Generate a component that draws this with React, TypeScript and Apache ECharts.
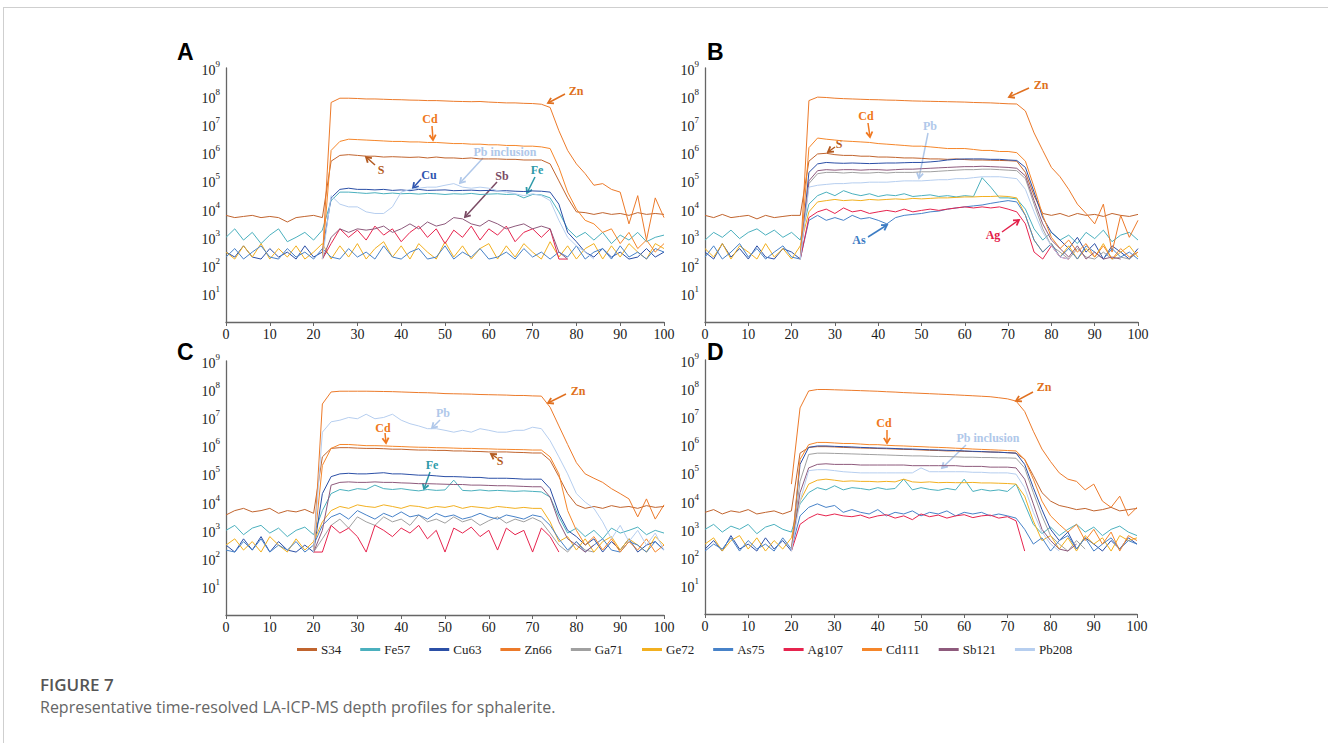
import React, { useEffect, useRef } from "react";
import * as echarts from "echarts";

const N = null;

// time axis (s)
const times = [0,2,4,6,8,10,12,14,16,18,20,22,24,26,28,30,32,34,36,38,40,42,44,46,48,50,52,54,56,58,60,62,64,66,68,70,72,74,76,78,80,82,84,86,88,90,92,94,96,98,100];

const seriesNames = ["S34","Fe57","Cu63","Zn66","Ga71","Ge72","As75","Ag107","Cd111","Sb121","Pb208"];
const seriesColors = ["#C0642E","#4BB0BE","#2B4FA6","#EC7A2A","#A0A0A0","#F2B020","#4782C8","#E6244E","#F5862A","#8E5A7C","#B6CEEF"];

const yTicks = [1,10,100,1e3,1e4,1e5,1e6,1e7,1e8,1e9];
const xTicks = [0,10,20,30,40,50,60,70,80,90,100];

// ---------- Panel A ----------
const aS34 = [6e3,5e3,5.5e3,6e3,5e3,5.5e3,5e3,3.5e3,5e3,5.5e3,6e3,5e3,
 5e5,8e5,8.5e5,8e5,7.5e5,7.5e5,7e5,7.2e5,7e5,6.8e5,7e5,6.5e5,7e5,6.5e5,6.5e5,6.2e5,6.5e5,6e5,6e5,6e5,5.8e5,5.8e5,5.5e5,5.5e5,5.5e5,
 4e5,1e5,2.5e4,8e3,7.5e3,6.5e3,7.5e3,6.5e3,7e3,6e3,7.5e3,6.5e3,7e3,6.5e3];
const aFe57 = [1e3,2e3,8e2,1.5e3,6e2,1.2e3,2e3,7e2,1e3,1.5e3,8e2,1.8e3,
 2e4,4e4,4e4,3.8e4,3.6e4,3.8e4,3.5e4,3.7e4,3.5e4,3.6e4,3.4e4,3.6e4,3.5e4,3.3e4,3.5e4,3.4e4,3.6e4,3.3e4,3.4e4,3.5e4,3.3e4,3.4e4,2.5e4,3.3e4,3.2e4,
 2.5e4,8e3,2e3,1e3,1.5e3,8e2,1.5e3,6e2,1.2e3,8e2,1.5e3,7e2,1e3,1.2e3];
const aCu63 = [3e2,2e2,5e2,2e2,1.7e2,4e2,2e2,3e2,1.7e2,5e2,2e2,3e2,
 2.5e4,5e4,5.5e4,5e4,5e4,4.8e4,5e4,4.6e4,4.8e4,4.5e4,5e4,4.6e4,4.7e4,4.8e4,4.5e4,4.6e4,4.7e4,4.5e4,4.6e4,4.4e4,4.5e4,4.3e4,4.2e4,4.4e4,4.3e4,
 4e4,1.5e4,1.5e3,7e2,3e2,2e2,4e2,2e2,3e2,1.7e2,2e2,4e2,2e2,3e2];
const aZn66 = [N,N,N,N,N,N,N,N,N,N,N,1.7e2,
 6e7,8.5e7,8.5e7,8.3e7,8e7,8e7,7.8e7,7.6e7,7.5e7,7.3e7,7.2e7,7e7,7e7,6.8e7,6.6e7,6.5e7,6.4e7,6.5e7,6.2e7,6e7,5.8e7,5.8e7,5.6e7,5.5e7,5.2e7,
 4e7,6e6,1.2e6,4e5,1.8e5,7e4,8e4,5e4,4e4,3e3,3e4,8e2,2.5e4,5e3];
const aGa71: (number | null)[] = []; // not visible in this spot
const aGe72 = [3e2,1.7e2,5e2,2e2,6e2,1.7e2,4e2,2e2,5e2,1.7e2,3e2,6e2,
 1.7e2,5e2,2e2,6e2,1.7e2,4e2,7e2,2e2,5e2,1.7e2,6e2,3e2,1.7e2,7e2,2e2,5e2,1.7e2,4e2,6e2,1.7e2,5e2,2e2,6e2,3e2,1.7e2,
 7e2,2e2,5e2,1.7e2,4e2,6e2,1.7e2,5e2,2e2,6e2,3e2,1.7e2,6e2,4e2];
const aAs75 = [2e2,4e2,1.7e2,3e2,5e2,2e2,1.7e2,4e2,2e2,3e2,1.7e2,4e2,
 2e2,1.7e2,4e2,2e2,3e2,1.7e2,5e2,2e2,1.7e2,3e2,4e2,1.7e2,2e2,5e2,1.7e2,3e2,2e2,4e2,1.7e2,2e2,3e2,1.7e2,4e2,2e2,3e2,
 1.7e2,3e2,2e2,5e2,1.7e2,3e2,4e2,1.7e2,5e2,2e2,3e2,1.7e2,4e2,3e2];
const aAg107 = [N,N,N,N,N,N,N,N,N,N,N,1.7e2,
 6e2,2e3,1e3,1.8e3,8e2,2.5e3,1.2e3,2e3,7e2,1.5e3,2.5e3,1e3,2e3,6e2,1.8e3,1e3,2.5e3,8e2,2e3,1.2e3,2.5e3,7e2,1.5e3,2e3,1e3,
 2e3,1.7e2,1.7e2];
const aCd111 = [N,N,N,N,N,N,N,N,N,N,N,1.7e2,
 1.2e6,2.5e6,3e6,2.9e6,2.8e6,2.7e6,2.6e6,2.5e6,2.5e6,2.4e6,2.4e6,2.3e6,2.3e6,2.2e6,2.1e6,2.1e6,2e6,2e6,1.9e6,1.9e6,1.8e6,1.8e6,1.7e6,1.7e6,1.6e6,
 1.4e6,3e5,4e4,1e4,4e3,3e3,1.5e3,2e3,6e2,1.5e3,4e2,8e2,3e2,6e2];
const aSb121 = [N,N,N,N,N,N,N,N,N,N,N,1.7e2,
 1e3,2e3,1.5e3,2e3,1.8e3,2e3,2.5e3,1.5e3,2e3,3e3,2e3,3.5e3,2.5e3,3e3,5e3,4.5e3,3e3,2.5e3,4e3,3e3,2e3,2.5e3,3e3,2e3,2.5e3,
 2e3,3e2,1.7e2];
const aPb208 = [N,N,N,N,N,N,N,N,N,N,N,1.7e2,
 3e4,1.5e4,1.2e4,1.2e4,8e3,7e3,7e3,1.2e4,4e4,5e4,5.5e4,6e4,6e4,7e4,8e4,6e4,5.5e4,6e4,5.5e4,4.5e4,4e4,3.5e4,3e4,3.5e4,3e4,
 2e4,4e3,1e3,5e2,3e2,1.7e2];

// ---------- Panel B ----------
const bS34 = [6e3,5e3,6.5e3,5e3,5.5e3,6e3,4.5e3,6e3,5e3,5.5e3,6e3,6e3,
 5e5,9e5,9.5e5,8.5e5,8e5,8e5,7.5e5,7.5e5,7e5,7e5,6.8e5,6.5e5,6.5e5,6.3e5,6e5,6e5,5.8e5,6e5,5.7e5,5.5e5,5.5e5,5.4e5,5.3e5,5.2e5,5e5,
 2e5,3e4,7e3,6e3,7e3,5.5e3,7e3,6e3,6.5e3,5.5e3,7e3,6e3,5.5e3,6.5e3];
const bFe57 = [8e2,1.5e3,1e3,1.8e3,9e2,1.5e3,2e3,1.2e3,1.8e3,1e3,1.5e3,8e2,
 1.5e4,3e4,4e4,3e4,4.5e4,3.5e4,3e4,3.5e4,2.8e4,3.2e4,3e4,3.5e4,2.8e4,3e4,3.2e4,2.8e4,3e4,2.7e4,3e4,2.8e4,1.3e5,6e4,2.5e4,2.5e4,2.3e4,
 1e4,2e3,8e2,1.5e3,8e2,1.2e3,6e2,1.5e3,9e2,1.8e3,7e2,1.2e3,1.5e3,8e2];
const bCu63 = [3e2,1.7e2,6e2,2e2,4e2,1.7e2,5e2,2e2,1.7e2,4e2,3e2,1.7e2,
 2e5,4e5,4.5e5,4.3e5,4.2e5,4.3e5,4.2e5,4.1e5,4.2e5,4.3e5,4.3e5,4.4e5,4.5e5,4.5e5,4.7e5,5e5,5.5e5,5.8e5,6e5,6e5,6e5,5.8e5,5.8e5,5.5e5,5.3e5,
 3e5,4e4,5e3,1.5e3,8e2,4e2,1e3,3e2,6e2,1.7e2,5e2,3e2,1.7e2,4e2];
const bZn66 = [N,N,N,N,N,N,N,N,N,N,N,1.7e2,
 7e7,9.3e7,9e7,8.5e7,8.2e7,8e7,7.8e7,7.6e7,7.5e7,7.3e7,7.2e7,7e7,6.8e7,6.7e7,6.6e7,6.5e7,6.4e7,6.3e7,6.2e7,6e7,5.9e7,5.8e7,5.6e7,5.4e7,5.3e7,
 3e7,5e6,1.2e6,3e5,1.4e5,5e4,1.5e4,7e3,3e3,1.5e4,3e2,6e3,1e3,4e3];
const bGa71 = [N,N,N,N,N,N,N,N,N,N,N,1.7e2,
 8e4,1.8e5,2e5,2e5,1.9e5,2e5,1.9e5,1.9e5,2e5,1.9e5,2e5,2e5,2e5,2.1e5,2.1e5,2.2e5,2.3e5,2.4e5,2.5e5,2.5e5,2.6e5,2.6e5,2.5e5,2.4e5,2.3e5,
 1.2e5,1.5e4,2e3,5e2,3e2,1.7e2,4e2,2e2,1.7e2,3e2,1.7e2,2e2,1.7e2,3e2];
const bGe72 = [4e2,2e2,6e2,1.7e2,5e2,3e2,1.7e2,6e2,2e2,4e2,1.7e2,5e2,
 8e3,1.8e4,2e4,2.2e4,2e4,2.1e4,2e4,2.2e4,2.1e4,2.2e4,2.3e4,2.2e4,2.4e4,2.3e4,2.4e4,2.5e4,2.5e4,2.6e4,2.7e4,2.7e4,2.8e4,2.8e4,2.9e4,2.8e4,2.5e4,
 6e3,8e2,3e2,6e2,2e2,5e2,1.7e2,4e2,2e2,6e2,1.7e2,3e2,5e2,2e2];
const bAs75 = [2e2,5e2,1.7e2,3e2,6e2,2e2,4e2,1.7e2,3e2,5e2,2e2,1.7e2,
 4e3,6e3,4e3,5e3,4e3,6e3,4.5e3,5e3,4e3,3e3,5e3,6e3,6.5e3,7e3,8e3,8.5e3,1e4,1.1e4,1.2e4,1.3e4,1.4e4,1.6e4,1.8e4,2e4,1.8e4,
 6e3,8e2,3e2,6e2,2e2,4e2,1.7e2,5e2,3e2,1.7e2,4e2,2e2,3e2,1.7e2];
const bAg107 = [N,N,N,N,N,N,N,N,N,N,N,1.7e2,
 5e3,8e3,1e4,7e3,1.1e4,8e3,9e3,7e3,8e3,9e3,8e3,1e4,8e3,9e3,1e4,9e3,1e4,1.1e4,1.2e4,1.1e4,1.2e4,1.1e4,1.2e4,1e4,8e3,
 3e3,3e2,1.7e2,5e2,2e2,1.7e2];
const bCd111 = [N,N,N,N,N,N,N,N,N,N,N,1.7e2,
 1.5e6,3.3e6,3e6,2.8e6,2.6e6,2.5e6,2.4e6,2.3e6,2.1e6,2e6,1.9e6,1.8e6,1.7e6,1.7e6,1.6e6,1.5e6,1.4e6,1.4e6,1.4e6,1.3e6,1.2e6,1.2e6,1.1e6,1.1e6,1e6,
 5e5,6e4,6e3,1e3,4e2,8e2,3e2,6e2,2e2,5e2,1.7e2,4e2,2e2,3e2];
const bSb121 = [N,N,N,N,N,N,N,N,N,N,N,1.7e2,
 1e5,2.3e5,2.5e5,2.4e5,2.5e5,2.5e5,2.4e5,2.5e5,2.5e5,2.4e5,2.5e5,2.6e5,2.6e5,2.7e5,2.8e5,2.9e5,3e5,3.1e5,3.2e5,3.2e5,3.3e5,3.2e5,3.1e5,3e5,2.8e5,
 1.5e5,2e4,3e3,8e2,4e2,2e2,5e2,1.7e2,3e2,1.7e2,2e2,1.7e2];
const bPb208 = [N,N,N,N,N,N,N,N,N,N,N,1.7e2,
 6e4,7e4,7.5e4,8e4,8e4,8.5e4,8.5e4,9e4,9e4,9e4,9.5e4,1e5,1e5,1e5,1.05e5,1.1e5,1.1e5,1.2e5,1.2e5,1.3e5,1.4e5,1.4e5,1.4e5,1.3e5,1.2e5,
 5e4,8e3,1.5e3,5e2,2e2,1.7e2];

// ---------- Panel C ----------
const cS34 = [3.5e3,5e3,6e3,4.5e3,5e3,6e3,4e3,5e3,4.5e3,5.5e3,4e3,4e5,
 8e5,8.5e5,8.5e5,8.2e5,8e5,8e5,7.8e5,7.5e5,7.5e5,7.2e5,7e5,7e5,6.8e5,6.8e5,6.5e5,6.5e5,6.3e5,6.2e5,6e5,6e5,6e5,5.8e5,5.7e5,5.5e5,5.5e5,
 3e5,8e4,2e4,8e3,6e3,7e3,6e3,7.5e3,6.5e3,7e3,6e3,7.5e3,6.5e3,7e3];
const cFe57 = [1e3,1.5e3,7e2,1.2e3,1.5e3,8e2,1.2e3,6e2,1e3,1.3e3,7e2,5e3,
 2e4,2.8e4,2.5e4,3e4,2.8e4,4e4,3e4,2.8e4,3e4,2.7e4,2.5e4,2.8e4,2.6e4,2.7e4,6e4,2.6e4,2.5e4,2.7e4,2.5e4,2.6e4,2.5e4,2.4e4,2.5e4,2.4e4,2.3e4,
 1.5e4,3e3,8e2,1.2e3,6e2,1e3,5e2,1.2e3,8e2,1e3,1.3e3,7e2,1e3,8e2];
const cCu63 = [3e2,1.7e2,5e2,2e2,6e2,1.7e2,4e2,2e2,1.7e2,3e2,1.7e2,2e4,
 8e4,1e5,1.05e5,1e5,1e5,1.05e5,1.1e5,1e5,1e5,9.5e4,9e4,9e4,8.5e4,8e4,8e4,7.8e4,7.5e4,7.5e4,7e4,7e4,7e4,6.8e4,6.5e4,6.5e4,6.5e4,
 3e4,4e3,1e3,6e2,3e2,5e2,1.7e2,4e2,2e2,5e2,1.7e2,3e2,4e2,2e2];
const cZn66 = [N,N,N,N,N,N,N,N,N,N,1.7e2,3e7,
 8e7,8.5e7,8.5e7,8.5e7,8.5e7,8.4e7,8.3e7,8.2e7,8e7,7.8e7,7.6e7,7.5e7,7.3e7,7e7,6.9e7,6.8e7,6.7e7,6.5e7,6.4e7,6.3e7,6.2e7,6e7,6e7,5.8e7,5.7e7,
 2.3e7,5e6,1.1e6,2.5e5,1e5,7e4,5e4,3e4,2e4,1.3e4,3e3,1.3e4,2.5e3,8e3];
const cGa71 = [N,N,N,N,N,N,N,N,N,N,1.7e2,5e2,
 1.5e3,2.5e3,1.2e3,3e3,2e3,1.5e3,3e3,2e3,2.5e3,1.5e3,3.5e3,2e3,2.5e3,1.8e3,3e3,2e3,2.5e3,1.5e3,2.2e3,3e3,1.8e3,2.5e3,2e3,2.8e3,2e3,
 8e2,3e2,1.7e2,4e2,2e2,1.7e2];
const cGe72 = [3e2,5e2,2e2,4e2,1.7e2,6e2,3e2,1.7e2,5e2,2e2,4e2,2e3,
 5e3,7e3,6e3,8e3,7e3,6.5e3,8e3,7e3,6e3,7.5e3,7e3,6e3,7e3,6.5e3,7.5e3,6e3,7e3,6.5e3,6e3,7e3,6.5e3,6e3,6.5e3,6e3,6e3,
 2e3,4e2,6e2,2e2,5e2,1.7e2,4e2,6e2,2e2,5e2,3e2,1.7e2,6e2,3e2];
const cAs75 = [2e2,1.7e2,4e2,2e2,5e2,1.7e2,3e2,2e2,4e2,1.7e2,3e2,1.5e3,
 3e3,4e3,2.5e3,5e3,3.5e3,2.5e3,4e3,3e3,4.5e3,3e3,3.5e3,2.5e3,4e3,3e3,3.5e3,2.5e3,3e3,4e3,3e3,2.5e3,3.5e3,3e3,2.5e3,3.5e3,3e3,
 1.5e3,5e2,2e2,4e2,1.7e2,3e2,5e2,2e2,1.7e2,4e2,3e2,1.7e2,4e2,2e2];
const cAg107 = [N,N,N,N,N,N,N,N,N,N,1.7e2,1.7e2,
 1.5e3,8e2,1.2e3,6e2,1.7e2,1.5e3,1e3,6e2,1.2e3,8e2,1.5e3,5e2,1e3,1.7e2,1.2e3,8e2,1.3e3,6e2,1e3,2e2,1.2e3,7e2,1e3,1.7e2,1.2e3,
 6e2,1.7e2];
const cCd111 = [N,N,N,N,N,N,N,N,N,N,1.7e2,2e5,
 8e5,1.1e6,1.1e6,1.05e6,1e6,1e6,9.8e5,9.5e5,9.3e5,9e5,8.8e5,8.7e5,8.5e5,8.4e5,8.2e5,8e5,8e5,7.8e5,7.7e5,7.5e5,7.4e5,7.3e5,7.2e5,7e5,7e5,
 4e5,1e5,5e3,1e3,3e2,6e2,2e2,5e2,1.7e2,4e2,2e2,5e2,1.7e2,3e2];
const cSb121 = [N,N,N,N,N,N,N,N,N,N,1.7e2,1e3,
 4e4,5e4,5.2e4,5e4,5e4,5.2e4,5e4,5e4,4.8e4,4.7e4,4.5e4,4.5e4,4.4e4,4.3e4,4.2e4,4.2e4,4e4,4e4,3.9e4,3.8e4,3.8e4,3.7e4,3.6e4,3.5e4,3.5e4,
 1.5e4,2e3,5e2,3e2,1.7e2,3e2];
const cPb208 = [N,N,N,N,N,N,N,N,N,N,1.7e2,3e6,
 7e6,8e6,1e7,9e6,1.3e7,9e6,1e7,1.3e7,8e6,6e6,5e6,4e6,4e6,3.5e6,3e6,3.5e6,3e6,4e6,3.5e6,3e6,3e6,3.5e6,3.5e6,4.5e6,4e6,
 1.5e6,4e5,1e5,2e4,1e4,6e3,2e3,5e2,1.5e3,4e2,1e3,3e2,8e2,2e2];

// ---------- Panel D ----------
const dS34 = [4e3,5e3,3.5e3,4.5e3,4e3,5e3,3.5e3,4e3,4.5e3,3.5e3,4.5e3,5e5,
 8e5,8.5e5,8.5e5,8.3e5,8e5,7.8e5,7.6e5,7.5e5,7.3e5,7.2e5,7e5,6.8e5,6.7e5,6.5e5,6.3e5,6.2e5,6e5,6e5,5.8e5,5.7e5,5.6e5,5.5e5,5.4e5,5.2e5,5e5,
 3e5,8e4,2e4,1e4,7e3,6e3,5e3,5.5e3,4.5e3,5e3,6e3,4.5e3,5e3,5.5e3];
const dFe57 = [1e3,1.5e3,8e2,1.3e3,1e3,1.5e3,7e2,1.2e3,1.5e3,1e3,8e2,8e3,
 2e4,3e4,2.5e4,3.5e4,2.5e4,3e4,2.8e4,2.5e4,3e4,2.6e4,2.8e4,6e4,2.5e4,3e4,2.6e4,2.4e4,2.8e4,2.5e4,6e4,2.2e4,2.6e4,2.3e4,2.5e4,2.2e4,4e4,
 8e3,1.5e3,7e2,1.2e3,6e2,1e3,1.5e3,8e2,1.2e3,6e2,1e3,1.3e3,8e2,6e2];
const dCu63 = [2e2,4e2,1.7e2,6e2,2e2,3e2,1.7e2,5e2,2e2,4e2,1.7e2,2e5,
 8e5,9e5,9e5,8.7e5,8.5e5,8.3e5,8e5,7.8e5,7.6e5,7.5e5,7.3e5,7.1e5,7e5,6.8e5,6.6e5,6.5e5,6.3e5,6.2e5,6e5,5.8e5,5.7e5,5.5e5,5.4e5,5.2e5,5e5,
 2e5,3e4,5e3,1e3,4e2,8e2,2e2,5e2,3e2,1.7e2,4e2,2e2,5e2,3e2];
const dZn66 = [N,N,N,N,N,N,N,N,N,N,4e4,2e7,
 8e7,9e7,9e7,8.8e7,8.6e7,8.4e7,8.2e7,8e7,7.8e7,7.5e7,7.3e7,7e7,6.8e7,6.6e7,6.4e7,6.2e7,6e7,5.8e7,5.6e7,5.4e7,5.2e7,5e7,4.6e7,4.2e7,3.5e7,
 1.5e7,3e6,7e5,2.5e5,1e5,6e4,5e4,2.5e4,4e4,1e4,6e3,1.5e4,3e3,6e3];
const dGa71 = [N,N,N,N,N,N,N,N,N,N,1.7e2,5e4,
 4.5e5,5e5,5e5,4.9e5,4.8e5,4.7e5,4.6e5,4.5e5,4.4e5,4.3e5,4.2e5,4.1e5,4e5,4e5,3.9e5,3.8e5,3.8e5,3.7e5,3.6e5,3.6e5,3.5e5,3.5e5,3.4e5,3.4e5,3.3e5,
 1.5e5,2e4,3e3,6e2,3e2,1.7e2,4e2,2e2];
const dGe72 = [3e2,5e2,1.7e2,4e2,6e2,2e2,5e2,1.7e2,4e2,2e2,5e2,1e4,
 4e4,5.5e4,6e4,5.5e4,5e4,5.2e4,5e4,5e4,4.8e4,5e4,4.8e4,6e4,4.8e4,4.6e4,4.8e4,4.5e4,4.6e4,4.5e4,4.5e4,4.6e4,4.4e4,4.4e4,4.3e4,4.2e4,4e4,
 1.5e4,2e3,4e2,6e2,2e2,5e2,1.7e2,6e2,3e2,5e2,1.7e2,6e2,4e2,5e2];
const dAs75 = [1.7e2,3e2,2e2,5e2,1.7e2,4e2,2e2,3e2,1.7e2,5e2,2e2,3e3,
 6e3,8e3,6e3,7e3,4e3,5e3,4e3,3.5e3,5e3,3e3,4e3,3.5e3,4.5e3,3e3,4e3,3.5e3,4.5e3,3e3,4e3,3.5e3,4e3,3e3,3.5e3,3e3,2.5e3,
 1e3,3e2,5e2,1.7e2,4e2,6e2,2e2,5e2,1.7e2,3e2,5e2,2e2,4e2,3e2];
const dAg107 = [N,N,N,N,N,N,N,N,N,N,1.7e2,1.5e3,
 2.5e3,3.5e3,3e3,3.5e3,3e3,2.8e3,3.2e3,2.5e3,3e3,3.3e3,2.5e3,3e3,2.2e3,3.5e3,2.8e3,3.2e3,2.5e3,3e3,3.3e3,2.6e3,3e3,3.2e3,2.5e3,2.8e3,2e3,
 1.7e2];
const dCd111 = [N,N,N,N,N,N,N,N,N,N,1.7e2,3e5,
 1e6,1.2e6,1.2e6,1.15e6,1.1e6,1.1e6,1.05e6,1e6,1e6,9.5e5,9.2e5,9e5,8.7e5,8.5e5,8.2e5,8e5,7.8e5,7.5e5,7.3e5,7e5,6.8e5,6.6e5,6.4e5,6.2e5,6e5,
 3e5,6e4,1e4,3e3,1.5e3,8e2,1.5e3,4e2,1e3,3e2,8e2,1.7e2,6e2,4e2];
const dSb121 = [N,N,N,N,N,N,N,N,N,N,1.7e2,2e4,
 1.5e5,2e5,2.1e5,2e5,2e5,2e5,1.9e5,1.9e5,1.9e5,1.9e5,1.9e5,1.9e5,1.8e5,1.8e5,1.8e5,1.8e5,1.8e5,1.8e5,1.7e5,1.7e5,1.7e5,1.6e5,1.6e5,1.6e5,1.5e5,
 6e4,8e3,1e3,4e2,2e2,1.7e2,3e2];
const dPb208 = [N,N,N,N,N,N,N,N,N,N,1.7e2,1e4,
 1.2e5,1.3e5,1.3e5,1.2e5,1.1e5,1.05e5,1e5,1e5,1e5,1e5,1e5,1e5,1e5,1.5e5,1.1e5,1.1e5,1.1e5,1.1e5,1.1e5,1.05e5,1.05e5,1e5,1e5,1e5,9e4,
 3e4,4e3,8e2,3e2,1.7e2];

const panelA = [aS34,aFe57,aCu63,aZn66,aGa71,aGe72,aAs75,aAg107,aCd111,aSb121,aPb208];
const panelB = [bS34,bFe57,bCu63,bZn66,bGa71,bGe72,bAs75,bAg107,bCd111,bSb121,bPb208];
const panelC = [cS34,cFe57,cCu63,cZn66,cGa71,cGe72,cAs75,cAg107,cCd111,cSb121,cPb208];
const panelD = [dS34,dFe57,dCu63,dZn66,dGa71,dGe72,dAs75,dAg107,dCd111,dSb121,dPb208];
const panels = [panelA, panelB, panelC, panelD];
const panelLetters = ["A","B","C","D"];

// annotation labels (text, colour, label position, arrow from -> to), in page pixels
const notes = [
  { t: "Zn", c: "#E07020", tx: 576, ty: 91, x1: 565, y1: 94, x2: 548, y2: 103 },
  { t: "Cd", c: "#F07820", tx: 430, ty: 119, x1: 432, y1: 126, x2: 433, y2: 140 },
  { t: "S", c: "#B35A20", tx: 381, ty: 170, x1: 375, y1: 165, x2: 366, y2: 157 },
  { t: "Cu", c: "#2F55B0", tx: 429, ty: 175, x1: 421, y1: 179, x2: 413, y2: 188 },
  { t: "Pb inclusion", c: "#B0C8EA", tx: 505, ty: 152, x1: 483, y1: 158, x2: 460, y2: 183 },
  { t: "Sb", c: "#7A4A64", tx: 502, ty: 176, x1: 497, y1: 182, x2: 465, y2: 217 },
  { t: "Fe", c: "#2E9AA8", tx: 537, ty: 170, x1: 535, y1: 177, x2: 527, y2: 193 },
  { t: "Zn", c: "#E07020", tx: 1041, ty: 85, x1: 1029, y1: 88, x2: 1009, y2: 97 },
  { t: "Cd", c: "#F07820", tx: 866, ty: 116, x1: 868, y1: 123, x2: 870, y2: 137 },
  { t: "S", c: "#B35A20", tx: 839, ty: 144, x1: 835, y1: 147, x2: 828, y2: 152 },
  { t: "Pb", c: "#B0C8EA", tx: 930, ty: 126, x1: 928, y1: 133, x2: 919, y2: 178 },
  { t: "As", c: "#3C7CC4", tx: 859, ty: 240, x1: 868, y1: 237, x2: 887, y2: 225 },
  { t: "Ag", c: "#E3204A", tx: 993, ty: 235, x1: 1002, y1: 232, x2: 1019, y2: 220 },
  { t: "Zn", c: "#E07020", tx: 578, ty: 391, x1: 566, y1: 394, x2: 548, y2: 403 },
  { t: "Pb", c: "#B0C8EA", tx: 443, ty: 413, x1: 440, y1: 420, x2: 432, y2: 428 },
  { t: "Cd", c: "#F07820", tx: 383, ty: 428, x1: 385, y1: 433, x2: 386, y2: 443 },
  { t: "S", c: "#B35A20", tx: 500, ty: 461, x1: 497, y1: 458, x2: 491, y2: 454 },
  { t: "Fe", c: "#2E9AA8", tx: 432, ty: 465, x1: 430, y1: 472, x2: 424, y2: 489 },
  { t: "Zn", c: "#E07020", tx: 1044, ty: 387, x1: 1033, y1: 392, x2: 1016, y2: 401 },
  { t: "Cd", c: "#F07820", tx: 884, ty: 423, x1: 887, y1: 430, x2: 887, y2: 443 },
  { t: "Pb inclusion", c: "#B0C8EA", tx: 988, ty: 438, x1: 966, y1: 445, x2: 942, y2: 468 },
];

const SERIF = '"Liberation Serif", "Times New Roman", serif';

function buildOption() {
  const grids = [
    { left: 226, top: 68, width: 438, height: 254 },
    { left: 705, top: 68, width: 433, height: 254 },
    { left: 226, top: 361, width: 438, height: 254 },
    { left: 705, top: 360, width: 432, height: 254 },
  ];
  const xAxis = grids.map((_, i) => ({
    type: "value", gridIndex: i, min: xTicks[0], max: xTicks[xTicks.length - 1], interval: 10,
    axisLine: { show: true, lineStyle: { color: "#666", width: 1.3 } },
    axisTick: { show: true, length: 4, lineStyle: { color: "#666" } },
    splitLine: { show: false },
    axisLabel: { fontFamily: SERIF, fontSize: 14, color: "#1a1a1a", margin: 5 },
  }));
  const yAxis = grids.map((_, i) => ({
    type: "log", gridIndex: i, logBase: 10, min: yTicks[0], max: yTicks[yTicks.length - 1], splitNumber: 9,
    axisLine: { show: true, lineStyle: { color: "#666", width: 1.3 } },
    axisTick: { show: false },
    splitLine: { show: false },
    axisLabel: {
      showMinLabel: false, margin: 6,
      formatter: (v: number) => `{b|10}{s|${Math.round(Math.log10(v))}}`,
      rich: {
        b: { fontFamily: SERIF, fontSize: 14, color: "#1a1a1a", lineHeight: 18, verticalAlign: "bottom" },
        s: { fontFamily: SERIF, fontSize: 9, color: "#1a1a1a", lineHeight: 10, verticalAlign: "top" },
      },
    },
  }));
  const series: any[] = [];
  panels.forEach((panel, p) => {
    panel.forEach((arr, i) => {
      series.push({
        type: "line", name: seriesNames[i], xAxisIndex: p, yAxisIndex: p,
        data: times.map((t, k) => [t, arr[k] == null ? "-" : arr[k]]),
        showSymbol: false, symbol: "none", silent: true,
        lineStyle: { width: 1, color: seriesColors[i] },
        itemStyle: { color: seriesColors[i] },
        connectNulls: false,
      });
    });
  });

  const graphic: any[] = [];
  graphic.push({ type: "line", shape: { x1: 3, y1: 7.5, x2: 1328, y2: 7.5 }, style: { stroke: "#cfcfcf", lineWidth: 1 } });
  graphic.push({ type: "line", shape: { x1: 3.5, y1: 7, x2: 3.5, y2: 743 }, style: { stroke: "#cfcfcf", lineWidth: 1 } });
  const letterPos = [[177, 40], [707, 40], [177, 340], [707, 340]];
  panelLetters.forEach((L, i) => {
    graphic.push({
      type: "text", x: letterPos[i][0], y: letterPos[i][1],
      style: { text: L, fill: "#000", font: 'bold 23px "Liberation Sans", Arial, sans-serif', textAlign: "left", textVerticalAlign: "top" },
    });
  });
  notes.forEach((n) => {
    const ang = Math.atan2(n.y2 - n.y1, n.x2 - n.x1);
    const hl = 6, ha = 0.55;
    const pA = [n.x2 - hl * Math.cos(ang - ha), n.y2 - hl * Math.sin(ang - ha)];
    const pB = [n.x2 - hl * Math.cos(ang + ha), n.y2 - hl * Math.sin(ang + ha)];
    graphic.push({ type: "line", shape: { x1: n.x1, y1: n.y1, x2: n.x2, y2: n.y2 }, style: { stroke: n.c, lineWidth: 1.5 } });
    graphic.push({ type: "polyline", shape: { points: [pA, [n.x2, n.y2], pB] }, style: { stroke: n.c, lineWidth: 1.8, fill: null } });
    graphic.push({
      type: "text", x: n.tx, y: n.ty,
      style: { text: n.t, fill: n.c, font: `bold 12px ${SERIF}`, textAlign: "center", textVerticalAlign: "middle" },
    });
  });
  graphic.push({
    type: "text", x: 40, y: 676,
    style: { text: "FIGURE 7", fill: "#555", font: '600 17px "Open Sans", sans-serif', textAlign: "left", textVerticalAlign: "top" },
  });
  graphic.push({
    type: "text", x: 40, y: 699,
    style: { text: "Representative time-resolved LA-ICP-MS depth profiles for sphalerite.", fill: "#666", font: '16px "Open Sans", sans-serif', textAlign: "left", textVerticalAlign: "top" },
  });

  return {
    animation: false,
    backgroundColor: "#fff",
    grid: grids,
    xAxis, yAxis, series, graphic,
    legend: {
      data: seriesNames, left: 292, top: 638, icon: "rect", itemWidth: 20, itemHeight: 3, itemGap: 19,
      textStyle: { fontFamily: SERIF, fontSize: 13, color: "#222", padding: [0, 0, 0, -1] },
      selectedMode: false,
    },
  };
}

export default function App() {
  const ref = useRef<HTMLDivElement>(null);
  useEffect(() => {
    if (!ref.current) return;
    const chart = echarts.init(ref.current, null, { renderer: "svg" });
    chart.setOption(buildOption() as any);
    return () => chart.dispose();
  }, []);
  return <div ref={ref} style={{ position: "absolute", left: 0, top: 0, width: 1328, height: 743, background: "#fff" }} />;
}
